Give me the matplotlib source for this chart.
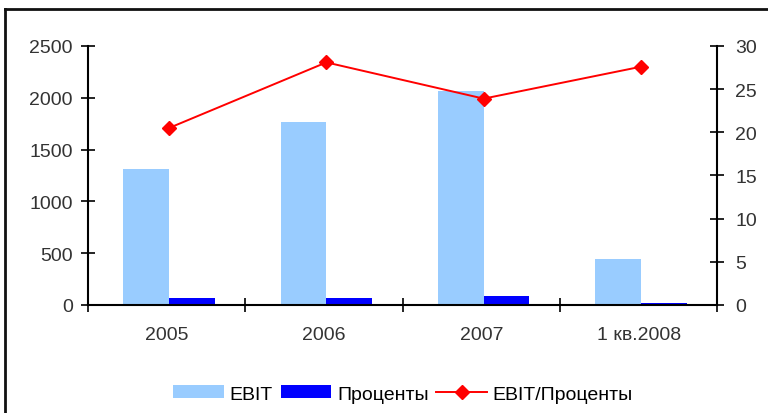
import numpy as np
import matplotlib.pyplot as plt
from matplotlib.lines import Line2D

plt.rcParams['font.family'] = ['Liberation Sans', 'DejaVu Sans']

categories = ['2005', '2006', '2007', '1 кв.2008']
ebit = [1315, 1770, 2070, 445]
interest = [68, 70, 90, 20]
ratio = [20.5, 28.1, 23.9, 27.6]

fig = plt.figure(figsize=(7.68, 4.14), dpi=100)
ax = fig.add_axes([0.1146, 0.261, 0.8194, 0.6255])
ax2 = ax.twinx()

x = np.arange(len(categories))
shift = 0.015
w = 0.29
ax.bar(x + shift - w / 2, ebit, w, color='#99CCFF', label='EBIT')
ax.bar(x + shift + w / 2, interest, w, color='#0000FF', label='Проценты')
ax2.plot(x + shift, ratio, color='#FF0000', lw=1.4, marker='D', ms=7,
         label='EBIT/Проценты')

ax.set_xlim(-0.5, 3.5)
ax.set_ylim(0, 2500)
ax.set_yticks(range(0, 2501, 500))
ax2.set_ylim(0, 30)
ax2.set_yticks(range(0, 31, 5))

ax.set_xticks(x)
ax.set_xticklabels(categories)
ax.set_xticks(np.arange(-0.5, 4, 1), minor=True)
ax.tick_params(axis='x', which='major', length=0, pad=15, labelsize=14, colors='#333333')
ax.tick_params(axis='x', which='minor', direction='inout', length=10, width=1.2)

for a in (ax, ax2):
    a.spines['top'].set_visible(False)
    for s in a.spines.values():
        s.set_linewidth(1.5)
ax2.spines['left'].set_visible(False)
ax2.spines['bottom'].set_visible(False)
ax.spines['right'].set_visible(False)

ax.tick_params(axis='y', direction='inout', length=10, width=1.2, labelsize=14,
               labelcolor='#333333', pad=6)
ax2.tick_params(axis='y', direction='inout', length=10, width=1.2, labelsize=14,
                labelcolor='#333333', pad=8)

h1, l1 = ax.get_legend_handles_labels()
h2, l2 = ax2.get_legend_handles_labels()
fig.legend(h1 + h2, l1 + l2, loc='center', bbox_to_anchor=(0.525, 0.046), ncol=3,
           frameon=False, fontsize=14, handlelength=2.6, handleheight=0.65,
           columnspacing=0.4, handletextpad=0.3)

# outer frame
fig.add_artist(Line2D([0.007, 1.0], [1 - 10 / 414, 1 - 10 / 414], color='#111111', lw=2,
                      transform=fig.transFigure))
fig.add_artist(Line2D([0.007, 0.007], [0, 1 - 10 / 414], color='#111111', lw=2,
                      transform=fig.transFigure))

fig.savefig('out.png', dpi=100)
